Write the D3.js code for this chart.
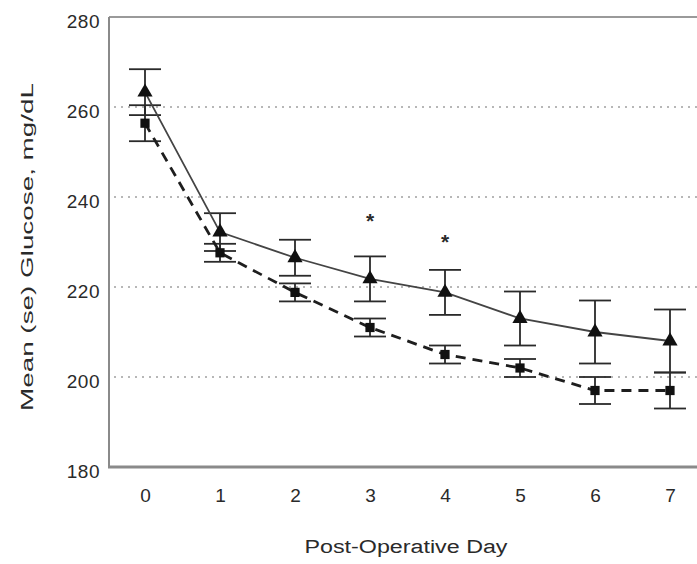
<!DOCTYPE html>
<html>
<head>
<meta charset="utf-8">
<script src="https://cdn.jsdelivr.net/npm/d3@7"></script>
<style>
  html, body { margin: 0; padding: 0; background: #fff; }
  svg { display: block; }
  text { font-family: "Liberation Sans", Arial, Helvetica, sans-serif; fill: #2a2a2a; }
</style>
</head>
<body>
<svg id="chart" width="697" height="564"></svg>
<script>
// Post-operative days
const days = [0, 1, 2, 3, 4, 5, 6, 7];

// Group A (triangles, solid line): mean and standard error
const meanA = [263.3, 232.2, 226.5, 221.8, 218.8, 213.0, 210.0, 208.0];
const seA   = [5.1, 4.2, 4.0, 5.0, 5.0, 6.0, 7.0, 7.0];

// Group B (squares, dashed line): mean and standard error
const meanB = [256.4, 227.6, 218.8, 211.0, 205.0, 202.0, 197.0, 197.0];
const seB   = [4.0, 2.0, 2.0, 2.0, 2.0, 2.0, 3.0, 4.0];

// Days marked as significantly different
const starDays = [3, 4];
const starY    = [235.5, 231.0];

const yTicks = [180, 200, 220, 240, 260, 280];
const gridTicks = [200, 220, 240, 260];

const svg = d3.select("#chart");

const x = d3.scaleLinear().domain([-0.48, 7.36]).range([109, 697]);
const y = d3.scaleLinear().domain([180, 280]).range([467, 17]);

// dotted horizontal gridlines
svg.append("g").selectAll("line").data(gridTicks).join("line")
  .attr("x1", 114).attr("x2", 697)
  .attr("y1", d => y(d)).attr("y2", d => y(d))
  .attr("stroke", "#a0a0a0").attr("stroke-width", 1.4)
  .attr("stroke-dasharray", "2,5");

// frame: top border, left axis, bottom axis
svg.append("line").attr("x1", 109).attr("x2", 697).attr("y1", y(280)).attr("y2", y(280))
  .attr("stroke", "#9a9a9a").attr("stroke-width", 2);
svg.append("line").attr("x1", 109).attr("x2", 109).attr("y1", y(280)).attr("y2", y(180))
  .attr("stroke", "#8a8a8a").attr("stroke-width", 2);
svg.append("line").attr("x1", 108).attr("x2", 697).attr("y1", y(180)).attr("y2", y(180))
  .attr("stroke", "#8a8a8a").attr("stroke-width", 3);

// y axis labels
const yAxis = d3.axisLeft(y).tickValues(yTicks).tickSize(0).tickPadding(9).tickFormat(d3.format("d"));
const gy = svg.append("g").attr("transform", "translate(109,0)").call(yAxis);
gy.select(".domain").remove();
gy.selectAll("text").attr("font-size", 19).attr("dy", "0.55em")
  .style("font-family", "'Liberation Sans', Arial, sans-serif").attr("fill", "#2a2a2a")
  .attr("letter-spacing", "0.5");

// x axis labels
const xAxis = d3.axisBottom(x).tickValues(days).tickSize(0).tickPadding(22).tickFormat(d3.format("d"));
const gx = svg.append("g").attr("transform", `translate(0,${y(180)})`).call(xAxis);
gx.select(".domain").remove();
gx.selectAll("text").attr("font-size", 19)
  .style("font-family", "'Liberation Sans', Arial, sans-serif").attr("fill", "#2a2a2a");

// axis titles
svg.append("text").attr("x", 406).attr("y", 553).attr("text-anchor", "middle")
  .attr("font-size", 18).attr("textLength", 203).attr("lengthAdjust", "spacingAndGlyphs")
  .text("Post-Operative Day");
svg.append("text").attr("transform", "translate(33,247) rotate(-90)").attr("text-anchor", "middle")
  .attr("font-size", 17).attr("textLength", 328).attr("lengthAdjust", "spacingAndGlyphs")
  .text("Mean (se) Glucose, mg/dL");

const capHalf = 16;
function errorBars(means, ses) {
  const g = svg.append("g").attr("stroke", "#2a2a2a").attr("stroke-width", 1.8);
  days.forEach((d, i) => {
    const cx = x(d), hi = y(means[i] + ses[i]), lo = y(means[i] - ses[i]);
    g.append("line").attr("x1", cx).attr("x2", cx).attr("y1", hi).attr("y2", lo);
    g.append("line").attr("x1", cx - capHalf).attr("x2", cx + capHalf).attr("y1", hi).attr("y2", hi);
    g.append("line").attr("x1", cx - capHalf).attr("x2", cx + capHalf).attr("y1", lo).attr("y2", lo);
  });
}
errorBars(meanB, seB);
errorBars(meanA, seA);

const line = d3.line().x((d, i) => x(days[i])).y(d => y(d));

// group B dashed line
svg.append("path").datum(meanB).attr("d", line)
  .attr("fill", "none").attr("stroke", "#1e1e1e").attr("stroke-width", 2.8)
  .attr("stroke-dasharray", "10,7");
// group A solid line
svg.append("path").datum(meanA).attr("d", line)
  .attr("fill", "none").attr("stroke", "#444").attr("stroke-width", 1.8);

// markers
svg.append("g").selectAll("path").data(meanB).join("path")
  .attr("transform", (d, i) => `translate(${x(days[i])},${y(d)})`)
  .attr("d", d3.symbol(d3.symbolSquare, 85)).attr("fill", "#111");
svg.append("g").selectAll("path").data(meanA).join("path")
  .attr("transform", (d, i) => `translate(${x(days[i])},${y(d)})`)
  .attr("d", d3.symbol(d3.symbolTriangle, 100)).attr("fill", "#111");

// significance asterisks
svg.append("g").selectAll("text").data(starDays).join("text")
  .attr("x", d => x(d)).attr("y", (d, i) => y(starY[i]) + 11)
  .attr("text-anchor", "middle").attr("font-size", 21).attr("font-weight", "bold").attr("fill", "#333")
  .text("*");
</script>
</body>
</html>
